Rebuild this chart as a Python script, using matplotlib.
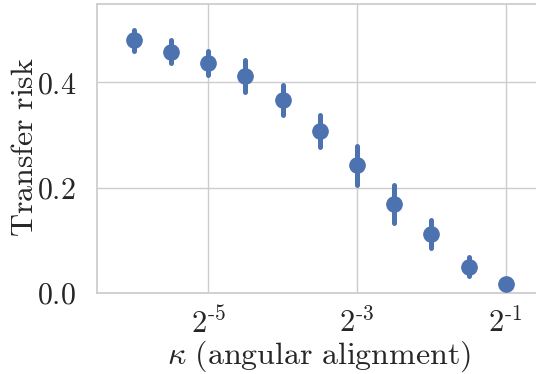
import numpy as np
import seaborn as sns
import matplotlib
matplotlib.use("Agg")
from matplotlib import pyplot as plt
from matplotlib import ticker

# angular alignment kappa = 2^k, k from -6 to -1 in half steps
log2_kappa = [-6.0, -5.5, -5.0, -4.5, -4.0, -3.5, -3.0, -2.5, -2.0, -1.5, -1.0]
risk_mean = [0.480, 0.458, 0.437, 0.412, 0.366, 0.307, 0.242, 0.169, 0.112, 0.049, 0.016]
risk_err = [0.020, 0.022, 0.023, 0.031, 0.029, 0.030, 0.037, 0.036, 0.027, 0.018, 0.004]

xticks_log2 = [-5, -3, -1]
yticks = [0.0, 0.2, 0.4]

sns.set_theme(style="whitegrid")
plt.rcParams["mathtext.fontset"] = "cm"
plt.rcParams["font.family"] = ["DejaVu Serif"]

kappa = 2.0 ** np.array(log2_kappa)

fig = plt.figure(figsize=(5.36, 3.74), dpi=100)
ax = fig.add_axes([0.1804, 0.2174, 0.8327, 0.7719])

ax.errorbar(kappa, risk_mean, yerr=risk_err, fmt="o", color="#4C72B0",
            markersize=11, elinewidth=3.6, capsize=0, zorder=3)
# round the ends of the error bars
for coll in ax.collections:
    coll.set_capstyle("round")

ax.set_xscale("log", base=2)
ax.set_xlim(2.0 ** -6.5, 2.0 ** -0.5)
ax.set_ylim(0, 0.549)

ax.xaxis.set_major_locator(ticker.FixedLocator([2.0 ** k for k in xticks_log2]))
ax.xaxis.set_minor_locator(ticker.NullLocator())
ax.set_xticklabels([r"$2^{\text{-}%d}$" % (-k) for k in xticks_log2])
ax.yaxis.set_major_locator(ticker.FixedLocator(yticks))
ax.set_yticklabels([r"$%.1f$" % v for v in yticks])

ax.tick_params(axis="x", labelsize=22, pad=5)
ax.tick_params(axis="y", labelsize=21.5, pad=9)
ax.set_xlabel(r"$\kappa\ \mathrm{(angular\ alignment)}$", fontsize=23)
ax.set_ylabel(r"$\mathrm{Transfer\ risk}$", fontsize=23)
ax.xaxis.set_label_coords(0.497, -0.157)
ax.yaxis.set_label_coords(-0.127, 0.503)

for s in ax.spines.values():
    s.set_color("0.8")

fig.savefig("out.png", dpi=100)
